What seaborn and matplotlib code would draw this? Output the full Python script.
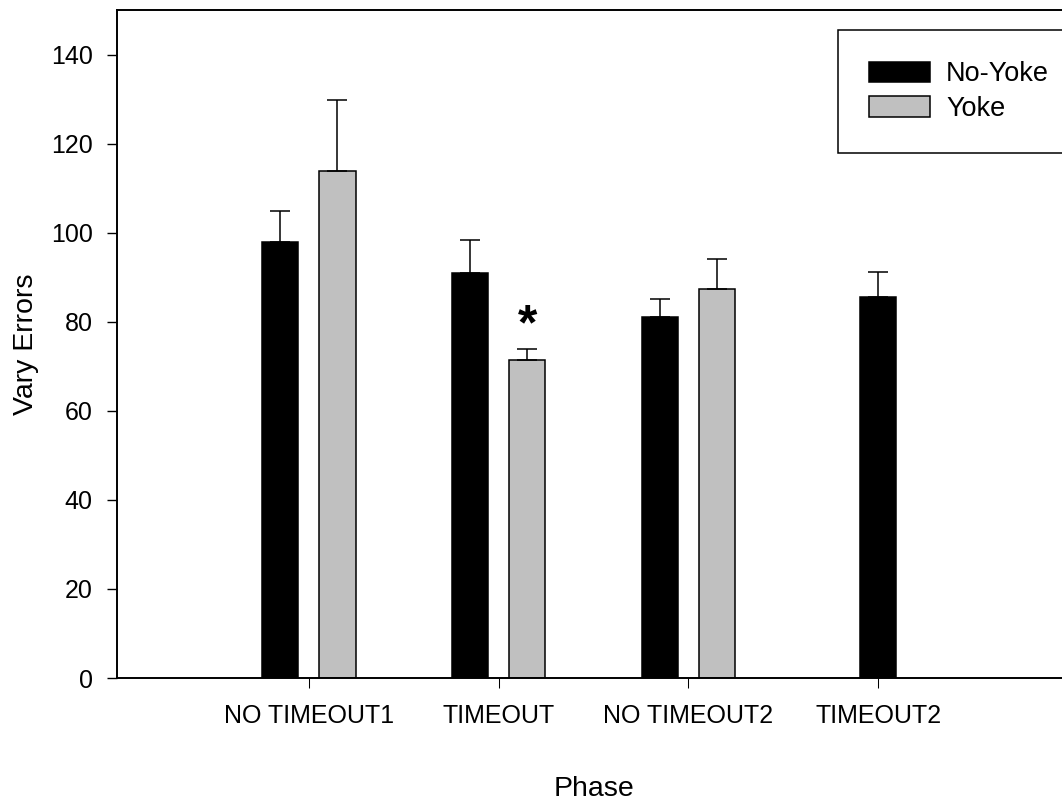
import numpy as np
import pandas as pd
import matplotlib
matplotlib.use("Agg")
import matplotlib.pyplot as plt
from matplotlib.patches import Patch
import seaborn as sns

# ---- data ----
phases = ["NO TIMEOUT1", "TIMEOUT", "NO TIMEOUT2", "TIMEOUT2"]
groups = ["No-Yoke", "Yoke"]
noyoke_mean = [97.8, 91.0, 81.1, 85.6]
noyoke_sem = [7.1, 7.4, 3.9, 5.6]
yoke_phases = ["NO TIMEOUT1", "TIMEOUT", "NO TIMEOUT2"]
yoke_mean = [113.9, 71.3, 87.3]
yoke_sem = [16.0, 2.6, 6.7]
significant = [("Yoke", "TIMEOUT")]
yticks = [0, 20, 40, 60, 80, 100, 120, 140]

rows = []
for p, m, s in zip(phases, noyoke_mean, noyoke_sem):
    rows.append({"phase": p, "group": "No-Yoke", "value": m, "sem": s})
for p, m, s in zip(yoke_phases, yoke_mean, yoke_sem):
    rows.append({"phase": p, "group": "Yoke", "value": m, "sem": s})
df = pd.DataFrame(rows)

sns.set_style("ticks")
plt.rcParams["font.family"] = ["Liberation Sans", "DejaVu Sans"]
plt.rcParams["text.color"] = "black"
plt.rcParams["axes.labelcolor"] = "black"

W, H = 1062, 802
fig = plt.figure(figsize=(W / 100, H / 100), dpi=100)
ax_left, ax_right, ax_top, ax_bot = 117, 1072, 10, 678
ax = fig.add_axes([ax_left / W, 1 - ax_bot / H, (ax_right - ax_left) / W, (ax_bot - ax_top) / H])

colors = {"No-Yoke": "black", "Yoke": "#c0c0c0"}
bw = 0.604
sns.barplot(data=df, x="phase", y="value", hue="group", order=phases, hue_order=groups,
            palette=colors, edgecolor="black", linewidth=1.1, width=bw, gap=0.368,
            errorbar=None, legend=False, saturation=1, ax=ax)

present = {(r.phase, r.group) for r in df.itertuples()}
sem_lookup = {(r.phase, r.group): r.sem for r in df.itertuples()}

for cont, g in zip(ax.containers, groups):
    xs, hs, es = [], [], []
    for patch in cont.patches:
        cx = patch.get_x() + patch.get_width() / 2
        idx = int(round(cx))
        ph = phases[idx]
        others = [o for o in groups if o != g]
        if not any((ph, o) in present for o in others):
            patch.set_x(idx - patch.get_width() / 2)
            cx = idx
        xs.append(cx)
        hs.append(patch.get_height())
        es.append(sem_lookup[(ph, g)])
        if (g, ph) in significant:
            ax.annotate("*", xy=(cx, patch.get_height() + sem_lookup[(ph, g)]),
                        xytext=(0, 7.2), textcoords="offset points", ha="center",
                        va="baseline", fontsize=36, fontweight="bold", color="black")
    ax.errorbar(xs, hs, yerr=[np.zeros(len(es)), es], fmt="none", ecolor="black",
                elinewidth=1.1, capsize=7.5, capthick=1.1, zorder=3)

ax.set_xlim(-1.01, 4.02)
ax.set_ylim(0, 150)
ax.set_yticks(yticks)

for s in ["top", "left", "bottom"]:
    ax.spines[s].set_linewidth(1.4)
    ax.spines[s].set_color("black")
ax.spines["right"].set_visible(False)

ax.tick_params(axis="y", direction="out", length=7.5, width=1.0, pad=10, labelsize=18,
               colors="black", labelcolor="black")
ax.tick_params(axis="x", direction="out", length=7.5, width=0.75, pad=11, labelsize=18,
               colors="black", labelcolor="black")

ax.set_xlabel("Phase", fontsize=20.5, va="baseline", color="black")
ax.set_ylabel("Vary Errors", fontsize=20.5, color="black")
ax.xaxis.set_label_coords(0.5, (ax_bot - 796) / (ax_bot - ax_top))
ax.yaxis.set_label_coords((39 - ax_left) / (ax_right - ax_left), 0.5)

handles = [Patch(facecolor=colors[g], edgecolor="black", linewidth=1.1) for g in groups]
leg = ax.legend(handles, groups, loc="upper left", bbox_to_anchor=(838 / W, 1 - 30 / H),
                bbox_transform=fig.transFigure, frameon=True, fancybox=False,
                edgecolor="black", framealpha=1, fontsize=19.5, handlelength=2.26,
                handleheight=0.78, handletextpad=0.58, borderpad=1.15, labelspacing=0.33,
                borderaxespad=0)
leg.get_frame().set_linewidth(1.1)
for t in leg.get_texts():
    t.set_color("black")

fig.savefig("out.png", dpi=100)
